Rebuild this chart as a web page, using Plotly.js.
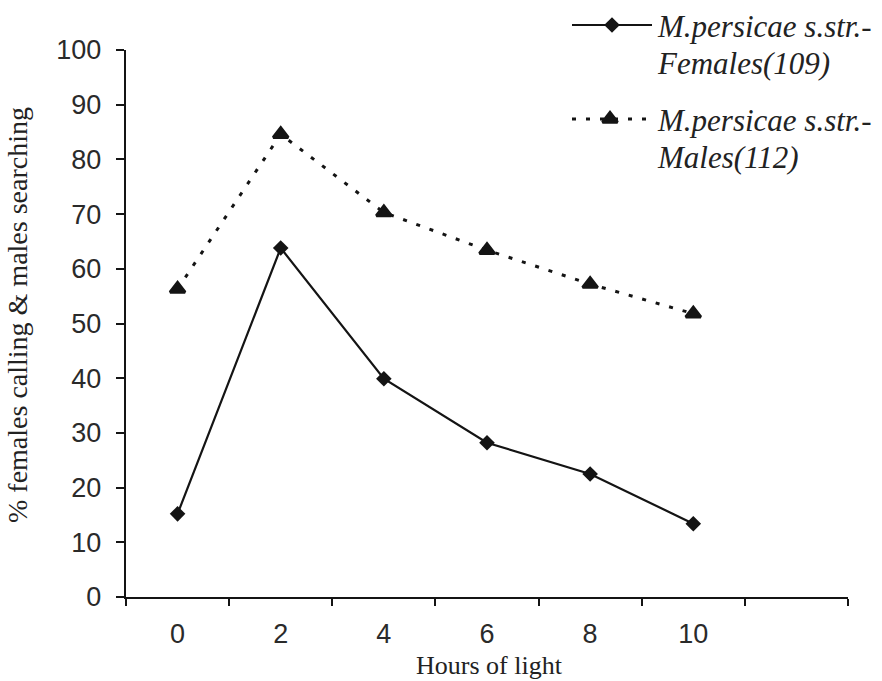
<!DOCTYPE html>
<html>
<head>
<meta charset="utf-8">
<script src="https://cdn.plot.ly/plotly-3.0.1.min.js"></script>
<style>html,body{margin:0;padding:0;background:#fff;}#chart{width:882px;height:681px;}</style>
</head>
<body>
<div id="chart"></div>
<script>
// Data
var hours = [0, 2, 4, 6, 8, 10];
var hourLabels = ['0', '2', '4', '6', '8', '10'];
var females = [15.2, 63.8, 39.9, 28.2, 22.5, 13.4];
var males = [56.3, 84.6, 70.3, 63.4, 57.2, 51.8];
var slotEdges = [-1, 1, 3, 5, 7, 9, 11, 13];
var femaleName = ['M.persicae s.str.-', 'Females(109)'];
var maleName = ['M.persicae s.str.-', 'Males(112)'];
var yTitle = '% females calling & males searching';
var xTitle = 'Hours of light';

var ink = '#141414';
var serif = 'Liberation Serif';
var sans = 'Liberation Sans';

var W = 882, H = 681, L = 126, R = 34, T = 10, B = 84;
var plotTopPx = 50;
var paperH = H - T - B;
var paperW = W - L - R;
var mainTop = (H - B - plotTopPx) / paperH;
function px2paperX(px) { return (px - L) / paperW; }
function px2paperY(py) { return (H - B - py) / paperH; }

var femaleLine = {color: ink, width: 2.2};
var maleLine = {color: ink, width: 3, dash: '4px,10px'};
var femaleMarker = {symbol: 'diamond', size: 12, color: ink};
var maleMarker = {symbol: 'triangle-up', size: 13, color: ink, line: {color: ink, width: 3}};

var traces = [
  {x: hours, y: females, xaxis: 'x', yaxis: 'y', mode: 'lines+markers',
   line: femaleLine, marker: femaleMarker, showlegend: false, hoverinfo: 'skip'},
  {x: hours, y: males, xaxis: 'x', yaxis: 'y', mode: 'lines+markers',
   line: maleLine, marker: maleMarker, showlegend: false, hoverinfo: 'skip'},
  // legend samples drawn on pixel-coordinate helper axes
  {x: [572, 652], y: [25, 25], xaxis: 'x3', yaxis: 'y3', mode: 'lines',
   line: femaleLine, showlegend: false, hoverinfo: 'skip'},
  {x: [612], y: [25], xaxis: 'x3', yaxis: 'y3', mode: 'markers',
   marker: femaleMarker, showlegend: false, hoverinfo: 'skip', cliponaxis: false},
  {x: [572, 648], y: [119, 119], xaxis: 'x3', yaxis: 'y3', mode: 'lines',
   line: maleLine, showlegend: false, hoverinfo: 'skip'},
  {x: [610], y: [119], xaxis: 'x3', yaxis: 'y3', mode: 'markers',
   marker: maleMarker, showlegend: false, hoverinfo: 'skip', cliponaxis: false}
];

var legFont = {family: serif, size: 31, color: '#222', style: 'italic'};
function legAnn(txt, x, y) {
  return {text: txt, x: x, y: y, xref: 'x3', yref: 'y3', showarrow: false,
          xanchor: 'left', yanchor: 'middle', font: legFont};
}

var annotations = [
  legAnn(femaleName[0], 655, 26),
  legAnn(femaleName[1], 655, 63),
  legAnn(maleName[0], 655, 120),
  legAnn(maleName[1], 655, 157),
  {text: yTitle, x: px2paperX(17), y: px2paperY(315), xref: 'paper', yref: 'paper',
   showarrow: false, textangle: -90, xanchor: 'center', yanchor: 'middle',
   font: {family: serif, size: 28, color: '#222'}},
  {text: xTitle, x: px2paperX(490), y: px2paperY(665), xref: 'paper', yref: 'paper',
   showarrow: false, xanchor: 'center', yanchor: 'middle',
   font: {family: serif, size: 26, color: '#222'}}
];

var layout = {
  width: W, height: H,
  margin: {l: L, r: R, t: T, b: B, pad: 0},
  paper_bgcolor: '#fff', plot_bgcolor: 'rgba(0,0,0,0)',
  showlegend: false,
  xaxis: {
    domain: [0, 1], anchor: 'y', range: [-1, 13],
    tickvals: slotEdges, ticktext: slotEdges.map(function () { return ''; }),
    ticks: 'outside', ticklen: 7, tickwidth: 2, tickcolor: ink,
    showline: true, linecolor: ink, linewidth: 2.2,
    showgrid: false, zeroline: false, fixedrange: true
  },
  xaxis2: {
    overlaying: 'x', anchor: 'y', range: [-1, 13], side: 'bottom',
    tickvals: hours, ticktext: hourLabels,
    ticks: 'outside', ticklen: 13, tickcolor: 'rgba(0,0,0,0)',
    tickfont: {family: sans, size: 27, color: '#2a2a2a'},
    showline: false, showgrid: false, zeroline: false, fixedrange: true
  },
  yaxis: {
    domain: [0, mainTop], anchor: 'x', range: [0, 100],
    tickvals: [0, 10, 20, 30, 40, 50, 60, 70, 80, 90, 100],
    ticks: 'outside', ticklen: 8, tickwidth: 2, tickcolor: ink,
    ticklabelstandoff: 9,
    tickfont: {family: sans, size: 27, color: '#2a2a2a'},
    showline: true, linecolor: ink, linewidth: 2.2,
    showgrid: false, zeroline: false, fixedrange: true
  },
  xaxis3: {domain: [0, 1], anchor: 'y3', range: [L, W - R], visible: false, fixedrange: true},
  yaxis3: {domain: [0, 1], anchor: 'x3', range: [H - B, T], visible: false, fixedrange: true},
  annotations: annotations
};

// helper trace so that the label axis (xaxis2) is drawn
traces.push({x: hours, y: hours.map(function () { return null; }), xaxis: 'x2', yaxis: 'y',
  mode: 'markers', showlegend: false, hoverinfo: 'skip'});

Plotly.newPlot('chart', traces, layout, {staticPlot: true, displayModeBar: false});
</script>
</body>
</html>
